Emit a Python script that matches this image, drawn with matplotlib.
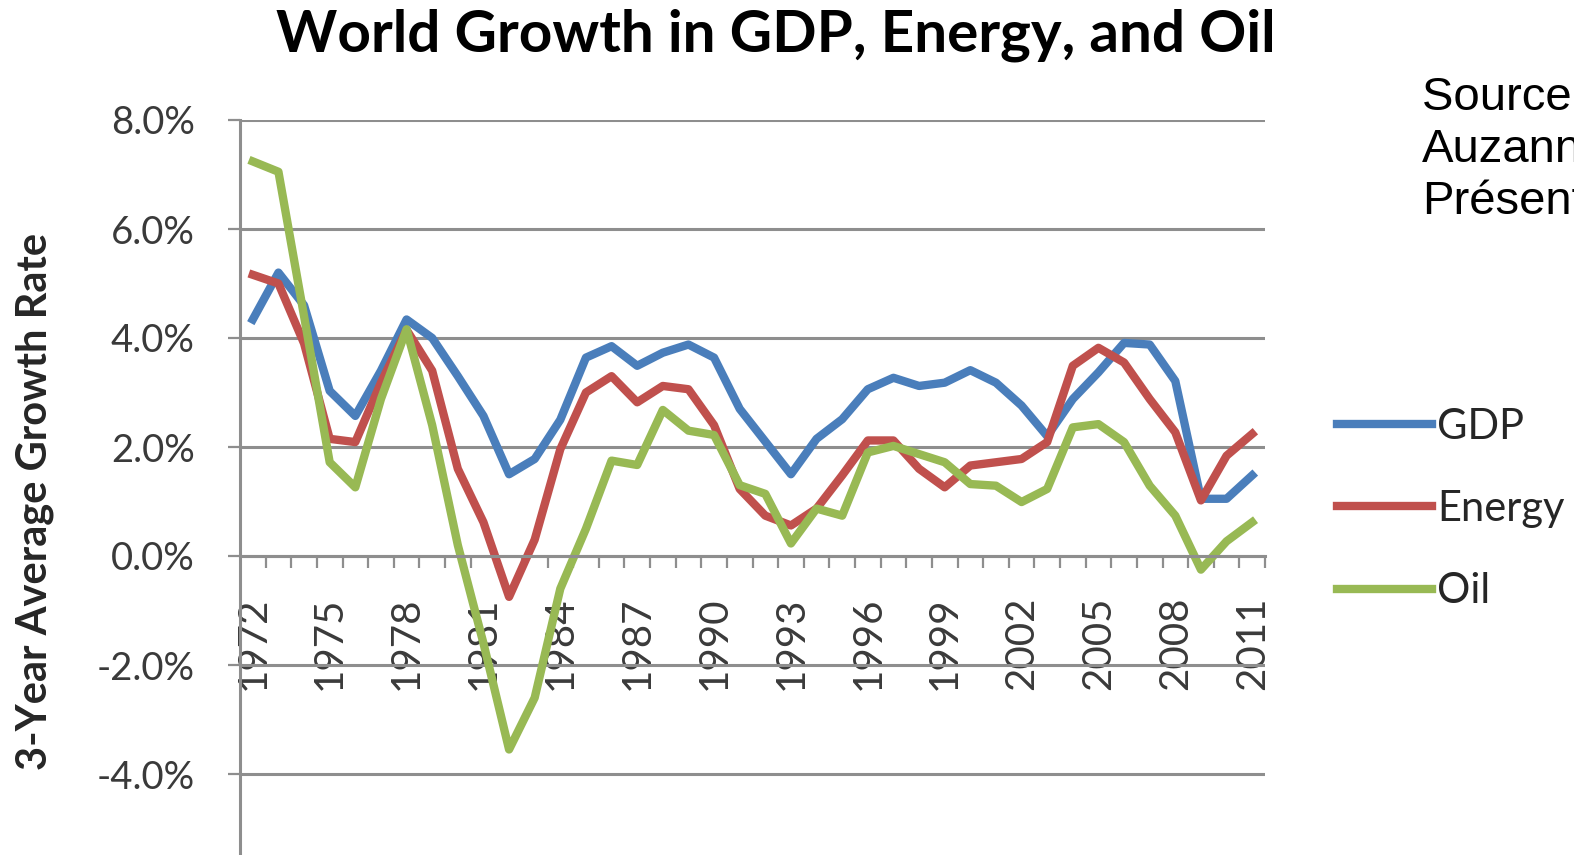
import matplotlib
matplotlib.use("Agg")
import matplotlib.pyplot as plt
import numpy as np

# 3-year average growth rates, %
years = list(range(1972, 2012))
gdp = [4.34, 5.2, 4.6, 3.03, 2.57, 3.4, 4.34, 4.0, 3.3, 2.57,
       1.5, 1.78, 2.5, 3.64, 3.85, 3.49, 3.73, 3.88, 3.64, 2.7,
       2.1, 1.5, 2.15, 2.51, 3.06, 3.27, 3.12, 3.18, 3.41, 3.18,
       2.76, 2.2, 2.88, 3.37, 3.91, 3.88, 3.21, 1.05, 1.05, 1.48]
energy = [5.16, 5.0, 3.9, 2.15, 2.09, 3.18, 4.15, 3.4, 1.6, 0.62,
          -0.75, 0.3, 1.96, 3.0, 3.3, 2.82, 3.12, 3.06, 2.4, 1.23,
          0.74, 0.56, 0.87, 1.48, 2.12, 2.12, 1.6, 1.26, 1.66, 1.72,
          1.78, 2.09, 3.49, 3.82, 3.55, 2.88, 2.27, 1.02, 1.84, 2.24]
oil = [7.24, 7.05, 4.4, 1.72, 1.26, 2.88, 4.16, 2.4, 0.2, -1.6,
       -3.55, -2.6, -0.6, 0.5, 1.75, 1.67, 2.68, 2.3, 2.22, 1.3,
       1.14, 0.23, 0.87, 0.74, 1.9, 2.02, 1.87, 1.72, 1.32, 1.29,
       0.99, 1.23, 2.36, 2.42, 2.09, 1.29, 0.74, -0.25, 0.27, 0.62]

year_labels = [1972, 1975, 1978, 1981, 1984, 1987, 1990, 1993,
               1996, 1999, 2002, 2005, 2008, 2011]
ytick_vals = [-4, -2, 0, 2, 4, 6, 8]
ytick_labels = ['-4.0%', '-2.0%', '0.0%', '2.0%', '4.0%', '6.0%', '8.0%']

plt.rcParams['font.family'] = ['Lato', 'DejaVu Sans']

W, H = 1574, 855
fig = plt.figure(figsize=(W / 100, H / 100), dpi=100)
ax = fig.add_axes([240 / W, (H - 883) / H, 1025 / W, 763 / H])

grid_col = '#8e8e8e'
ax.plot(years, gdp, color='#4a7ebb', lw=6, solid_joinstyle='round', label='GDP')
ax.plot(years, energy, color='#c0504d', lw=6, solid_joinstyle='round', label='Energy')
ax.plot(years, oil, color='#98b954', lw=6, solid_joinstyle='round', label='Oil')

ax.set_xlim(1971.5, 2011.5)
ax.set_ylim(-6, 8)

ax.set_yticks(ytick_vals)
ax.set_yticklabels(ytick_labels)
ax.grid(axis='y', color=grid_col, lw=2.2)
ax.set_axisbelow(True)

for s in ['top', 'right']:
    ax.spines[s].set_visible(False)
ax.spines['left'].set_color(grid_col)
ax.spines['left'].set_linewidth(2.2)
ax.spines['bottom'].set_position(('data', 0))
ax.spines['bottom'].set_color(grid_col)
ax.spines['bottom'].set_linewidth(2.2)

ax.tick_params(axis='y', length=8.6, width=1.6, color=grid_col, pad=24,
               labelsize=27.5, labelcolor='#3a3a3a')
ax.set_xticks(year_labels)
ax.set_xticklabels([str(y) for y in year_labels], rotation=90)
ax.set_xticks(np.arange(1972.5, 2012, 1), minor=True)
ax.tick_params(axis='x', which='major', length=0, pad=29,
               labelsize=29, labelcolor='#3a3a3a')
ax.tick_params(axis='x', which='minor', length=8.6, width=1.6, color=grid_col)

fig.text(776 / W, 1 - 51 / H, 'World Growth in GDP, Energy, and Oil',
         fontsize=42, fontweight='bold', ha='center', va='baseline')
fig.text(35 / W, 1 - 501 / H, '3-Year Average Growth Rate', fontsize=30,
         fontweight='bold', rotation=90, ha='center', va='center', color='#262626')

fig.text(1422 / W, 1 - 76 / H, 'Source :\nAuzanneau\nPrésentation',
         family='Liberation Sans', fontsize=34, ha='left', va='top',
         linespacing=1.235)

leg = ax.legend(loc='center left', bbox_to_anchor=(1337 / W, 1 - 509 / H),
                bbox_transform=fig.transFigure, frameon=False, fontsize=30,
                handlelength=2.28, handletextpad=0.12, labelspacing=1.06,
                borderpad=0, borderaxespad=0, labelcolor='#262626')
for line in leg.get_lines():
    line.set_linewidth(6)

fig.savefig('out.png', dpi=100)
